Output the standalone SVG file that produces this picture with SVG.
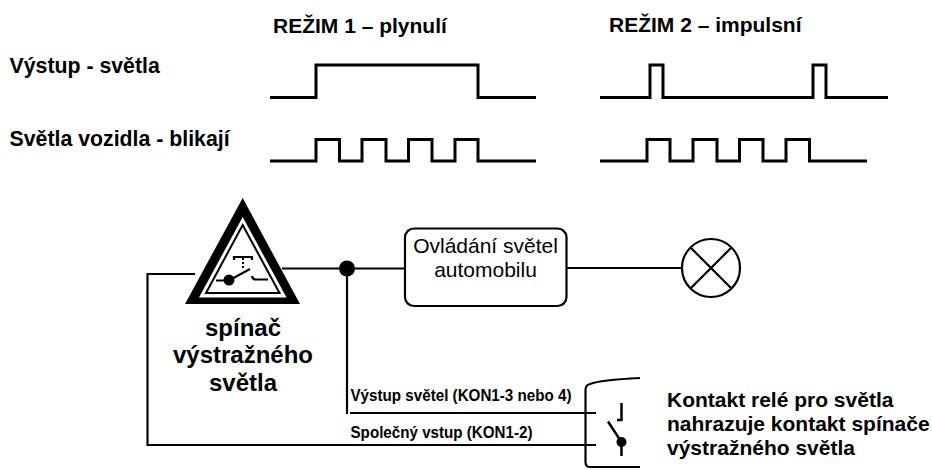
<svg xmlns="http://www.w3.org/2000/svg" width="932" height="470" viewBox="0 0 932 470">
<style>
text{font-family:"Liberation Sans",Arial,sans-serif;fill:#000}
.b{font-weight:bold;font-size:21px}
.m{font-weight:bold;font-size:21.300px}
.s{font-weight:bold;font-size:17px}
.c{font-weight:bold;font-size:24px;text-anchor:middle}
.n{font-size:21px;text-anchor:middle}
.w{fill:none;stroke:#000;stroke-width:3}
.l{fill:none;stroke:#000;stroke-width:2.2}
</style>
<g id="labels">
<text class="b" x="273" y="32.500">REŽIM 1 – plynulí</text>
<text class="b" x="609" y="32">REŽIM 2 – impulsní</text>
<text class="m" x="9.500" y="73">Výstup - světla</text>
<text class="m" x="9.500" y="146">Světla vozidla - blikají</text>
</g>
<g id="waveforms">
<path class="w" d="M270 97.500H316V65H478V97.500H536"/>
<path class="w" d="M270 161H316V139.500H339.500V161H362V139.500H386V161H408.500V139.500H432V161H455V139.500H478V161H536"/>
<path class="w" d="M600 97.500H650V65H663V97.500H813V65H826V97.500H888"/>
<path class="w" d="M600 161H647V139.500H670V161H693V139.500H717V161H739.500V139.500H763V161H786V139.500H809.500V161H867"/>
</g>
<g id="connectors">
<path class="l" d="M195 274H147.500V445H596"/>
<path class="l" d="M282 268.500H405"/>
<path class="l" d="M347 268.500V414"/>
<path class="l" d="M350 413H596"/>
<path class="l" d="M567 268H682"/>
</g>
<g id="switch">
<path d="M242.700 198L185 304H300Z" fill="#000"/>
<path d="M242.700 217L199 297.500H286.500Z" fill="#fff"/>
<path d="M242.700 225L206 293H279.500Z" fill="#fff" stroke="#000" stroke-width="2"/>
<path class="l" d="M234 260V257H252V260"/>
<path d="M243 258V269" fill="none" stroke="#000" stroke-width="2" stroke-dasharray="2 2"/>
<path class="l" d="M216 280.500H229L250 269"/>
<circle cx="229" cy="280" r="5.500"/>
<path class="l" d="M252 276Q252.500 279.500 256 279.500H268"/>
<text class="c" x="243" y="336">spínač</text>
<text class="c" x="243" y="363">výstražného</text>
<text class="c" x="243" y="391">světla</text>
</g>
<g id="junction"><circle cx="347" cy="268.500" r="8"/></g>
<g id="control">
<rect x="405" y="228.500" width="161.500" height="77.500" rx="9" fill="#fff" stroke="#000" stroke-width="2.200"/>
<text class="n" x="485.500" y="252.500">Ovládání světel</text>
<text class="n" x="485.500" y="277">automobilu</text>
</g>
<g id="lamp">
<circle cx="711" cy="268" r="29" fill="#fff" stroke="#000" stroke-width="2.200"/>
<path class="l" d="M690.500 247.500L731.500 288.500M731.500 247.500L690.500 288.500"/>
</g>
<g id="relay">
<text class="s" x="350.500" y="400.500" textLength="221" lengthAdjust="spacingAndGlyphs">Výstup světel (KON1-3 nebo 4)</text>
<text class="s" x="350.500" y="437.500" textLength="182" lengthAdjust="spacingAndGlyphs">Společný vstup (KON1-2)</text>
<path class="l" d="M640 378Q600 380 590 384Q585.500 385 585.500 390V462Q585.500 467 590 467H640"/>
<path d="M621.500 403V420H617" fill="none" stroke="#000" stroke-width="2.500"/>
<path d="M608 421.500L621.500 442V456" fill="none" stroke="#000" stroke-width="2.500"/>
<circle cx="621.500" cy="442" r="5"/>
<text class="b" x="667" y="406.500">Kontakt relé pro světla</text>
<text class="b" x="667" y="431">nahrazuje kontakt spínače</text>
<text class="b" x="667" y="455">výstražného světla</text>
</g>
</svg>
